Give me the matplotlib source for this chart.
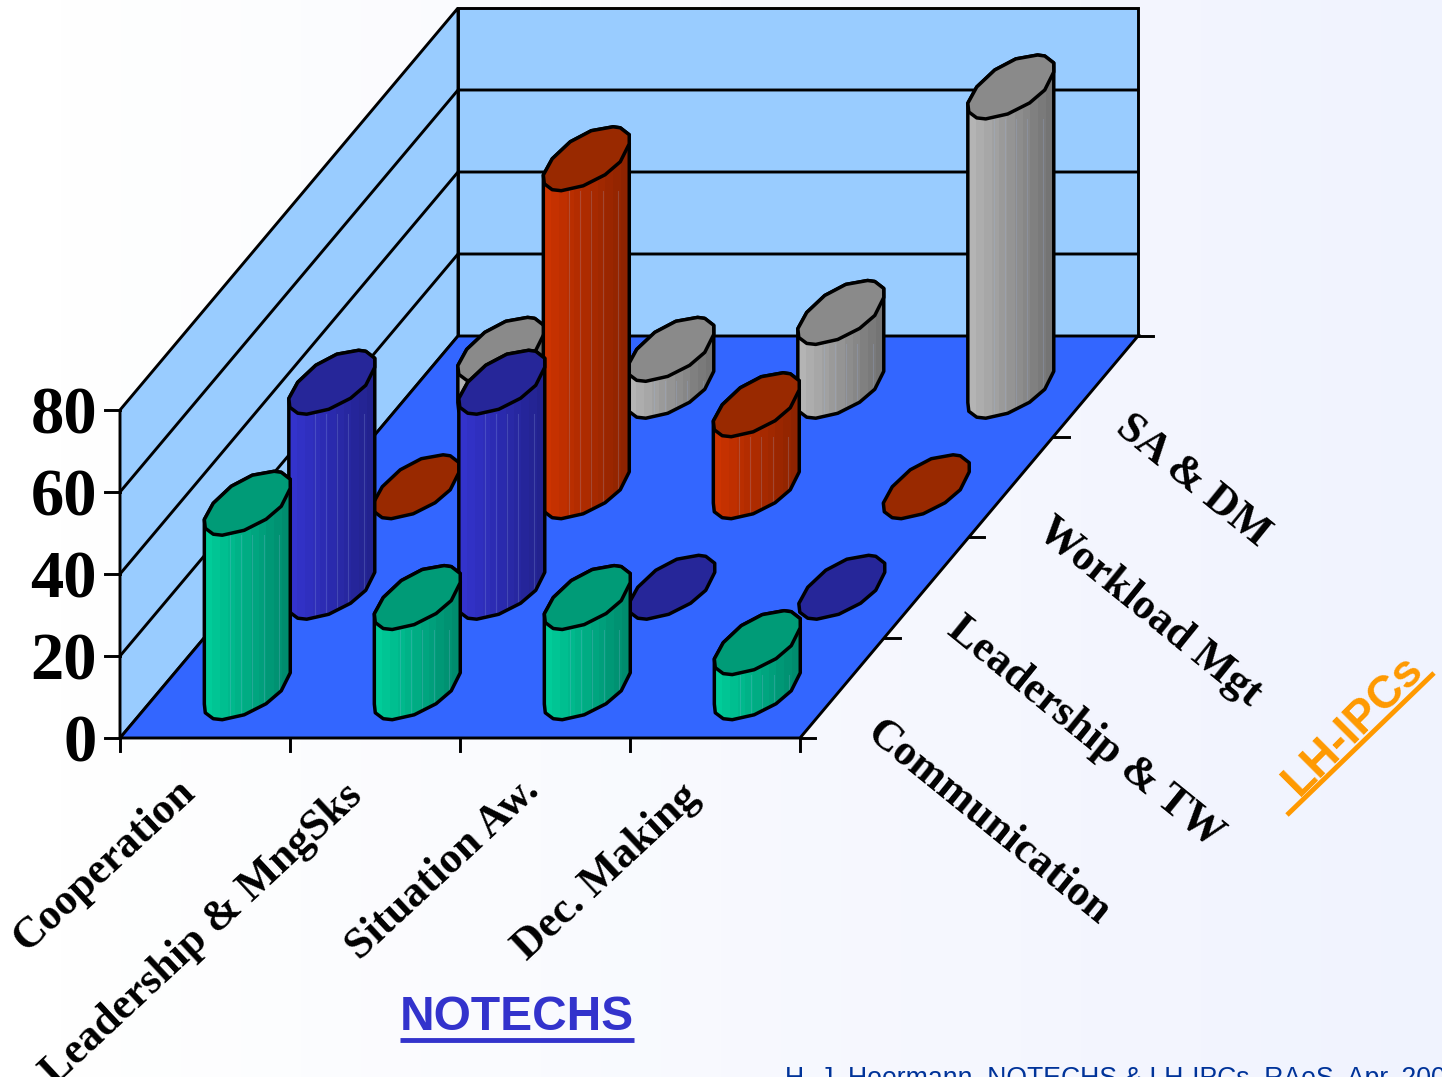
import numpy as np
import matplotlib
matplotlib.use("Agg")
import matplotlib.pyplot as plt
from matplotlib.colors import LinearSegmentedColormap
from matplotlib.patches import Polygon

notechs = ["Cooperation", "Leadership & MngSks", "Situation Aw.", "Dec. Making"]
ipcs = ["Communication", "Leadership & TW", "Workload Mgt", "SA & DM"]
communication = [45, 22, 22, 11]
leadership_tw = [50, 50, 0, 0]
workload_mgt = [0, 80, 20, 0]
sa_dm = [9, 9, 18, 73]
y_ticks = [0, 20, 40, 60, 80]

series = [communication, leadership_tw, workload_mgt, sa_dm]
top_colors = ["#009B77", "#262699", "#992900", "#8A8A8A"]
body_colors = [("#00CC99", "#00866A"), ("#3333CC", "#212188"),
               ("#CC3300", "#882200"), ("#B4B4B4", "#6E6E6E")]

FOOT_U = [-.172, -.123, -.047, .011, .116, .19, .215, .179, .134, .047, 0, -.109, -.178, -.2]
FOOT_V = [-.162, -.249, -.308, -.318, -.269, -.159, -.03, .149, .239, .308, .318, .279, .169, 0]

W, H = 1442, 1077
X0, Y0 = 120.0, 738.0
DX, DDX, DDY, PER = 170.0, 84.5, 100.5, 4.1
LW = 2.1
BAR_LW = 2.5


def proj(u, v, z=0.0):
    return X0 + DX * np.asarray(u) + DDX * np.asarray(v), Y0 - DDY * np.asarray(v) - PER * np.asarray(z)


def hull(points):
    pts = sorted(set(map(tuple, np.round(points, 3))))
    def half(seq):
        out = []
        for p in seq:
            while len(out) > 1 and (out[-1][0]-out[-2][0])*(p[1]-out[-2][1]) - (out[-1][1]-out[-2][1])*(p[0]-out[-2][0]) <= 0:
                out.pop()
            out.append(p)
        return out[:-1]
    return np.array(half(pts) + half(pts[::-1]))


fig = plt.figure(figsize=(W / 100, H / 100), dpi=100)
ax = fig.add_axes([0, 0, 1, 1])
ax.axis("off")

# stepped page background
bg = LinearSegmentedColormap.from_list("bg", ["#FFFFFF", "#F0F3FE"])
steps = np.floor(np.linspace(0, 1, W) * 24) / 24
ax.imshow(steps[None, :], cmap=bg, vmin=0, vmax=1, extent=(0, W, H, 0), aspect="auto", zorder=0)

wall = "#99CCFF"
floor = "#3366FF"
zmax = y_ticks[-1]
n_u, n_v = len(notechs), len(ipcs)


def quad(us, vs, zs, color, z):
    x, y = proj(us, vs, zs)
    ax.add_patch(Polygon(np.c_[x, y], closed=True, fc=color, ec="black", lw=LW, joinstyle="miter", zorder=z))


quad([0, 0, 0, 0], [0, n_v, n_v, 0], [0, 0, zmax, zmax], wall, 1)
quad([0, n_u, n_u, 0], [n_v] * 4, [0, 0, zmax, zmax], wall, 1)
quad([0, n_u, n_u, 0], [0, 0, n_v, n_v], [0, 0, 0, 0], floor, 2)

for t in y_ticks[1:-1]:
    x, y = proj([0, 0, n_u], [0, n_v, n_v], [t, t, t])
    ax.plot(x, y, color="black", lw=LW, zorder=3)

# ticks
for t in y_ticks:
    x, y = proj(0, 0, t)
    ax.plot([x - 15, x], [y, y], color="black", lw=LW, zorder=3)
    ax.text(x - 23, y, str(t), ha="right", va="center_baseline", fontsize=48,
            family="Liberation Serif", weight="bold", color="black")
for i in range(n_u + 1):
    x, y = proj(i, 0)
    ax.plot([x, x], [y, y + 13], color="black", lw=LW, zorder=3)
for j in range(n_v + 1):
    x, y = proj(n_u, j)
    ax.plot([x, x + 15], [y, y], color="black", lw=LW, zorder=3)

# bars, back row first
zo = 10
foot_u = np.array(FOOT_U)
foot_v = np.array(FOOT_V)
for j in range(n_v - 1, -1, -1):
    light, dark = body_colors[j]
    cmap = LinearSegmentedColormap.from_list("b", [light, dark])
    for i in range(n_u):
        val = series[j][i]
        bx, by = proj(i + .5 + foot_u, j + .5 + foot_v, 0)
        tx, ty = proj(i + .5 + foot_u, j + .5 + foot_v, val)
        if val > 0:
            outline = hull(np.r_[np.c_[bx, by], np.c_[tx, ty]])
            body = Polygon(outline, closed=True, fc="none", ec="black", lw=BAR_LW, joinstyle="round", zorder=zo + 2)
            ax.add_patch(body)
            grad = np.floor(np.linspace(0, 1, 86) * 11) / 11
            im = ax.imshow(grad[None, :], cmap=cmap, vmin=0, vmax=1, aspect="auto",
                           extent=(bx.min(), bx.max(), by.max(), ty.min()), zorder=zo, interpolation="nearest")
            im.set_clip_path(body)
            xl = bx.min() + (bx.max() - bx.min()) * np.array([.3, .43, .56, .69, .87])
            for xv in xl:
                ln, = ax.plot([xv, xv], [ty.max(), by.max()], color="#A0B8E8", alpha=.22, lw=.8, zorder=zo + 1)
                ln.set_clip_path(body)
        ax.add_patch(Polygon(np.c_[tx, ty], closed=True, fc=top_colors[j], ec="black", lw=BAR_LW,
                             joinstyle="round", zorder=zo + 3))
        zo += 4

serif = dict(family="Liberation Serif", weight="bold", color="black", fontsize=31.5, rotation_mode="anchor")
end_xy = [(189, 786), (357, 790), (533, 784), (693, 791)]
for lab, (x, y) in zip(notechs, end_xy):
    ax.text(x, y, lab, ha="right", va="center", rotation=43, **serif)
start_xy = [(872, 728), (953, 624), (1043, 525), (1121, 422)]
for lab, (x, y) in zip(ipcs, start_xy):
    ax.text(x, y, lab, ha="left", va="center", rotation=-39, **serif)

sans = dict(family="Liberation Sans", weight="bold")
ax.text(517, 1018, "NOTECHS", ha="center", va="center", fontsize=34.5, color="#3333CC", **sans)
ax.plot([400, 634], [1040, 1040], color="#3333CC", lw=3.5, solid_capstyle="butt", zorder=5)
ax.text(1353, 725, "LH-IPCs", ha="center", va="center", rotation=45, rotation_mode="anchor",
        fontsize=33, color="#FF9900", **sans)
ax.plot([1287, 1434], [815, 673], color="#FF9900", lw=3.5, solid_capstyle="butt", zorder=5)
ax.text(785, 1086, "H.-J. Hoermann, NOTECHS & LH-IPCs, RAeS, Apr. 200", ha="left", va="baseline",
        fontsize=19.2, color="#003399", family="Liberation Sans")

ax.set_xlim(0, W)
ax.set_ylim(H, 0)
fig.savefig("out.png", dpi=100)
